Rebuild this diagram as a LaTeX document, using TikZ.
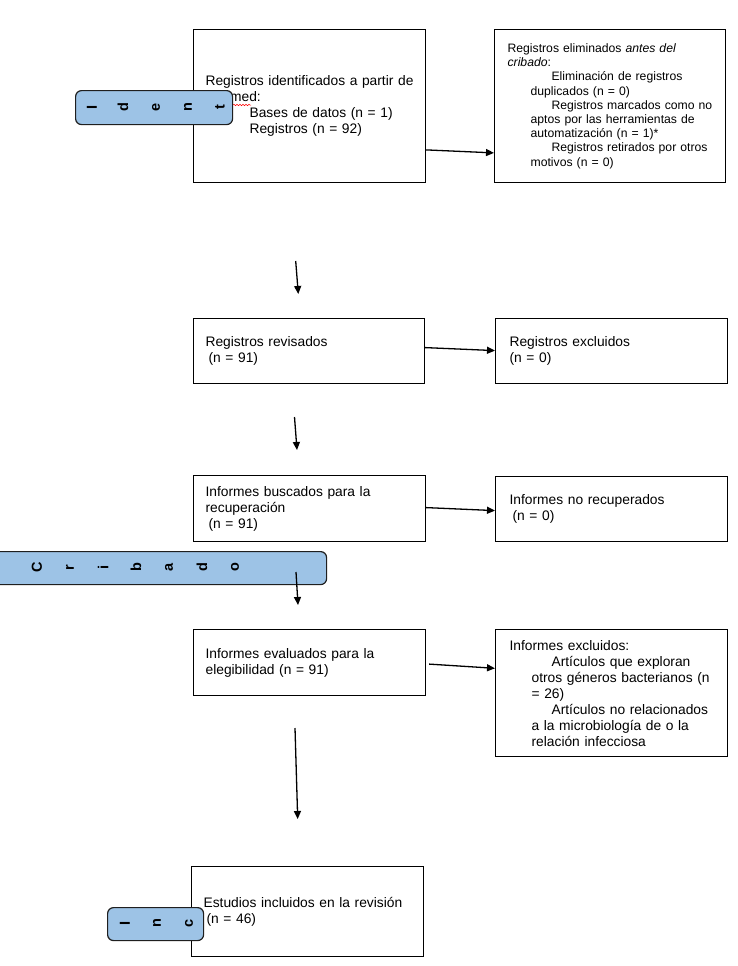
\documentclass[tikz,border=0pt]{standalone}
\usepackage{fontspec}
\setmainfont{Liberation Sans}
\usetikzlibrary{arrows.meta, calc, decorations.pathmorphing}
\definecolor{faseazul}{HTML}{9DC3E6}
\definecolor{fasetinta}{HTML}{1F1F1F}

\tikzset{
  caja/.style={draw, line width=1.2pt, anchor=north west, align=left,
    inner xsep=12pt, inner ysep=0pt, font=\fontsize{13.8}{16}\selectfont},
  cajachica/.style={caja, inner xsep=13pt, font=\fontsize{12.2}{14.2}\selectfont},
  fase/.style={draw=fasetinta, fill=faseazul, rounded corners=6pt,
    line width=1.2pt, anchor=north west, inner sep=0pt},
  letra/.style={rotate=90, inner sep=0pt, font=\fontsize{14.5}{14.5}\selectfont\bfseries},
  flecha/.style={-{Triangle[length=8pt, width=7pt]}, line width=1.3pt}
}

\begin{document}
\begin{tikzpicture}[x=1pt, y=-1pt]

\path[use as bounding box, fill=white] (0,0) rectangle (737,966);

% ---- left column
\node[caja, text width=208pt, minimum height=153pt] (ident) at (193,29)
  {Registros identificados a partir de\\
   Pubmed:\\
   \hspace*{44pt}Bases de datos (n = 1)\\
   \hspace*{44pt}Registros (n = 92)};
\node[caja, text width=207pt, minimum height=65pt] (revis) at (193,318)
  {Registros revisados\\ \hspace*{3pt}(n = 91)};
\node[caja, text width=208pt, minimum height=66pt] (busc) at (193,475)
  {Informes buscados para la\\ recuperación\\ \hspace*{3pt}(n = 91)};
\node[caja, text width=208pt, minimum height=66pt] (eval) at (193,629)
  {Informes evaluados para la\\ elegibilidad (n = 91)};
\node[caja, text width=208pt, minimum height=90pt] (inclu) at (191,866)
  {Estudios incluidos en la revisión\\ \hspace*{3pt}(n = 46)};

% ---- right column
\node[cajachica, text width=205pt, minimum height=153pt] (elim) at (494,29)
  {Registros eliminados \textit{antes del}\\
   \textit{cribado}:\\
   \hspace*{44pt}Eliminación de registros\\
   \hspace*{23pt}duplicados (n = 0)\\
   \hspace*{44pt}Registros marcados como no\\
   \hspace*{23pt}aptos por las herramientas de\\
   \hspace*{23pt}automatización (n = 1)*\\
   \hspace*{44pt}Registros retirados por otros\\
   \hspace*{23pt}motivos (n = 0)};
\node[caja, inner xsep=14pt, text width=204pt, minimum height=65pt] (exclu) at (495,318)
  {Registros excluidos\\ (n = 0)};
\node[caja, inner xsep=14pt, text width=204pt, minimum height=65pt] (norec) at (495,476)
  {Informes no recuperados\\ \hspace*{3pt}(n = 0)};
\node[caja, inner xsep=14pt, text width=204pt, minimum height=127pt] (infex) at (495,629)
  {Informes excluidos:\\
   \hspace*{42pt}Artículos que exploran\\
   \hspace*{22pt}otros géneros bacterianos (n\\
   \hspace*{22pt}= 26)\\
   \hspace*{42pt}Artículos no relacionados\\
   \hspace*{22pt}a la microbiología de o la\\
   \hspace*{22pt}relación infecciosa};

% spell-check mark
\draw[red, line width=0.5pt, decorate,
      decoration={snake, amplitude=0.7pt, segment length=3pt}] (233,105) -- (251,105);

% ---- phase bars
\node[fase, minimum width=157pt, minimum height=34pt] (fident) at (75,90) {};
\foreach \l/\x in {I/92, d/123, e/156, n/188, t/220}
  \node[letra] (fid\x) at (\x,107) {\l};

\node[fase, minimum width=336pt, minimum height=33pt] (fcrib) at (-10,551) {};
\foreach \l/\x in {C/37, r/70, i/103, b/136, a/169, d/202, o/235}
  \node[letra] (fcr\x) at (\x,567.5) {\l};

\node[fase, minimum width=96pt, minimum height=33pt] (finc) at (107,907) {};
\foreach \l/\x in {I/125, n/157, c/189}
  \node[letra] (fin\x) at (\x,923.5) {\l};

% ---- arrows
\draw[flecha] ([yshift=-43.8pt]ident.east) -- ([yshift=-46.8pt]elim.west);
\draw[flecha] ([yshift=3.5pt]revis.east) -- ([yshift=0.5pt]exclu.west);
\draw[flecha] ([yshift=1pt]busc.east) -- ([yshift=-1.5pt]norec.west);
\draw[flecha] ([xshift=3pt, yshift=-1.5pt]eval.east) -- ([yshift=24.8pt]infex.west);

\coordinate (f1a) at (295.7,261);   \coordinate (f1b) at (298.3,294);
\coordinate (f2a) at (294.5,417);   \coordinate (f2b) at (297,450);
\coordinate (f3a) at (296,572);     \coordinate (f3b) at (298,605);
\coordinate (f4a) at (295,728);     \coordinate (f4b) at (297.7,819);
\foreach \k in {1,...,4}
  \draw[flecha] (f\k a) -- (f\k b);

\end{tikzpicture}
\end{document}
